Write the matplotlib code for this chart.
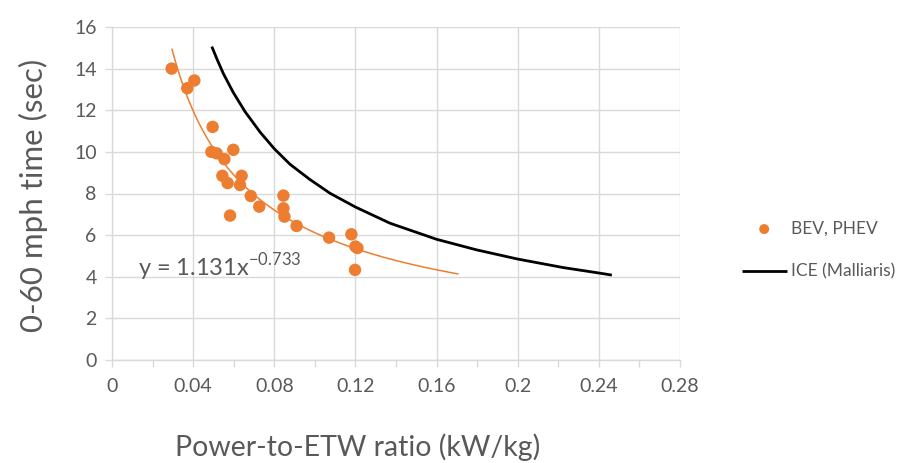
import matplotlib
matplotlib.use("Agg")
import matplotlib.pyplot as plt
import numpy as np
from matplotlib.ticker import MultipleLocator

plt.rcParams['font.family'] = ['Lato', 'DejaVu Sans']

# BEV/PHEV data points (power-to-ETW ratio, 0-60 time)
bev_x = [0.0294, 0.0406, 0.0371, 0.0496, 0.0490, 0.0516, 0.0598, 0.0554, 0.0544,
         0.0639, 0.0570, 0.0631, 0.0684, 0.0582, 0.0726, 0.0845, 0.0845, 0.0850,
         0.0910, 0.1070, 0.1180, 0.1200, 0.1210, 0.1198]
bev_y = [14.0, 13.43, 13.06, 11.2, 10.0, 9.93, 10.1, 9.65, 8.85,
         8.85, 8.5, 8.41, 7.88, 6.94, 7.37, 7.9, 7.29, 6.89,
         6.44, 5.88, 6.04, 5.45, 5.38, 4.33]

# Power trendline shown on chart: y = 1.131 x^-0.733
trend_a = 1.131
trend_b = -0.733
trend_xmin, trend_xmax = 0.0296, 0.1705

# ICE (Malliaris) curve
ice_x = [0.0492, 0.0520, 0.0549, 0.0598, 0.0656, 0.0730, 0.0800, 0.0878, 0.0976, 0.1075,
         0.1200, 0.1371, 0.1600, 0.1798, 0.2000, 0.2225, 0.2400, 0.2464]
ice_y = [15.06, 14.40, 13.76, 12.85, 11.93, 10.95, 10.15, 9.40, 8.67, 8.01,
         7.35, 6.57, 5.80, 5.29, 4.85, 4.44, 4.18, 4.08]

xticks = [0, 0.04, 0.08, 0.12, 0.16, 0.2, 0.24, 0.28]
xticklabels = ['0', '0.04', '0.08', '0.12', '0.16', '0.2', '0.24', '0.28']
yticks = [0, 2, 4, 6, 8, 10, 12, 14, 16]

orange = '#ED7D31'
gray_text = '#595959'
grid_c = '#D9D9D9'

fig = plt.figure(figsize=(9.1, 4.63), dpi=100)
ax = fig.add_axes([112/910, 1-360/463, (680-112)/910, (360-27)/463])

ax.plot(ice_x, ice_y, color='black', lw=2.0, solid_capstyle='butt',
        solid_joinstyle='round', zorder=3, label='ICE (Malliaris)')

tx = np.linspace(trend_xmin, trend_xmax, 200)
ax.plot(tx, trend_a * tx ** trend_b, color=orange, lw=1.1, zorder=2)

ax.scatter(bev_x, bev_y, s=80, color=orange, edgecolors='none', zorder=4,
           label='BEV, PHEV')

ax.set_xlim(0, 0.28)
ax.set_ylim(0, 16)
ax.set_xticks(xticks)
ax.set_xticklabels(xticklabels)
ax.set_yticks(yticks)
ax.xaxis.set_minor_locator(MultipleLocator(0.02))
ax.grid(True, which='major', color=grid_c, lw=1.0, zorder=0)
ax.set_axisbelow(True)
for s in ['top', 'right']:
    ax.spines[s].set_visible(False)
for s in ['left', 'bottom']:
    ax.spines[s].set_color(grid_c)
    ax.spines[s].set_linewidth(1.0)
ax.tick_params(axis='both', which='both', colors=grid_c, labelcolor=gray_text,
               labelsize=14, length=5, width=1.0, direction='out')
ax.tick_params(axis='x', which='minor', length=5)
ax.tick_params(axis='x', pad=8)
ax.tick_params(axis='y', pad=6)

ax.set_xlabel('Power-to-ETW ratio (kW/kg)', fontsize=20.5, color=gray_text)
ax.set_ylabel('0-60 mph time (sec)', fontsize=22.5, color=gray_text)
ax.xaxis.set_label_coords((358-112)/568, -(433-360)/333, transform=ax.transAxes)
ax.yaxis.set_label_coords(-(112-48)/568, 0.495)

ax.text(0.0128, 4.05, r'y = 1.131x$^{\mathregular{-0.733}}$', fontsize=17,
        color=gray_text, ha='left', va='baseline')

leg = fig.legend(handles=[ax.collections[0], ax.lines[0]],
                 labels=['BEV, PHEV', 'ICE (Malliaris)'],
                 loc='upper left', bbox_to_anchor=(726/910, 1-205/463),
                 frameon=False, fontsize=12.5, labelcolor=gray_text,
                 handlelength=2.6, handletextpad=0.25, labelspacing=1.55,
                 markerscale=0.8)

fig.savefig('out.png', dpi=100)
